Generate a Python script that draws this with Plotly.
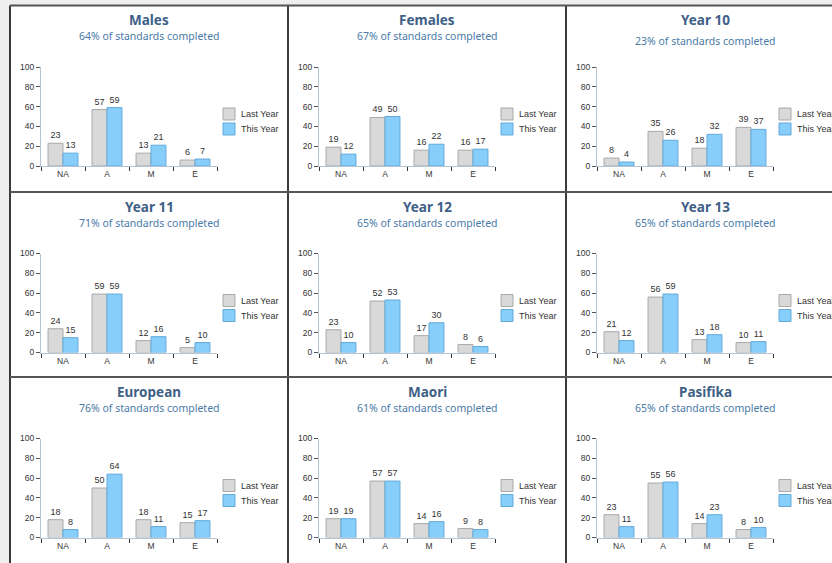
import plotly.graph_objects as go

# ---- data ----
categories = ["NA", "A", "M", "E"]
panel_titles = ["Males", "Females", "Year 10",
                "Year 11", "Year 12", "Year 13",
                "European", "Maori", "Pasifika"]
completed_pct = [64, 67, 23, 71, 65, 65, 76, 61, 65]
last_year = [
    [23, 57, 13, 6],
    [19, 49, 16, 16],
    [8, 35, 18, 39],
    [24, 59, 12, 5],
    [23, 52, 17, 8],
    [21, 56, 13, 10],
    [18, 50, 18, 15],
    [19, 57, 14, 9],
    [23, 55, 14, 8],
]
this_year = [
    [13, 59, 21, 7],
    [12, 50, 22, 17],
    [4, 26, 32, 37],
    [15, 59, 16, 10],
    [10, 53, 30, 6],
    [12, 59, 18, 11],
    [8, 64, 11, 17],
    [19, 57, 16, 8],
    [11, 56, 23, 10],
]
series_names = ["Last Year", "This Year"]

# ---- style / layout constants ----
W, H = 832, 563
col_left = [10, 288, 566]
row_top = [5.5, 192, 377]
PANEL_W = 278
LY_FILL, LY_LINE = "#d9d9d9", "#a9a9a9"
TY_FILL, TY_LINE = "#87cefa", "#62a9d9"
AXIS_LINE = "#b4c4d2"
TITLE_COLOR = "#3e6087"
SUB_COLOR = "#4a7aa8"
TEXT_COLOR = "#333333"
FONT = "Liberation Sans, Arial, sans-serif"
TITLE_FONT = "Noto Sans, Open Sans, sans-serif"


def px_x(x):
    return x / W


def px_y(y):
    return 1 - y / H


fig = go.Figure()
shapes = []
annotations = []

# panel background
shapes.append(dict(type="rect", xref="paper", yref="paper",
                   x0=px_x(col_left[0]), x1=1.2, y0=-0.2, y1=px_y(row_top[0]),
                   fillcolor="white", line=dict(width=0), layer="below"))

for i, title in enumerate(panel_titles):
    r, c = divmod(i, 3)
    L, T = col_left[c], row_top[r]
    n = i + 1
    xa = "x" if n == 1 else f"x{n}"
    ya = "y" if n == 1 else f"y{n}"
    fig.add_trace(go.Bar(
        x=categories, y=last_year[i], name=series_names[0],
        xaxis=xa, yaxis=ya, showlegend=False,
        marker=dict(color=LY_FILL, line=dict(color=LY_LINE, width=1)),
        text=last_year[i], textposition="outside", cliponaxis=False,
        constraintext="none",
        textfont=dict(size=9, color=TEXT_COLOR, family=FONT),
        hoverinfo="skip"))
    fig.add_trace(go.Bar(
        x=categories, y=this_year[i], name=series_names[1],
        xaxis=xa, yaxis=ya, showlegend=False,
        marker=dict(color=TY_FILL, line=dict(color=TY_LINE, width=1)),
        text=this_year[i], textposition="outside", cliponaxis=False,
        constraintext="none",
        textfont=dict(size=9, color=TEXT_COLOR, family=FONT),
        hoverinfo="skip"))

    xkey = "xaxis" if n == 1 else f"xaxis{n}"
    ykey = "yaxis" if n == 1 else f"yaxis{n}"
    ydomain = [px_y(T + 160.5), px_y(T + 61.5)]
    fig.layout[xkey] = dict(
        domain=[px_x(L + 31), px_x(L + 207)], anchor=ya,
        type="category", categoryorder="array", categoryarray=categories,
        range=[-0.5, 3.5], showline=True, linecolor=AXIS_LINE, linewidth=1,
        ticks="outside", tickson="boundaries", ticklen=4, tickcolor="#333",
        tickfont=dict(size=8.5, color=TEXT_COLOR, family=FONT),
        showgrid=False, zeroline=False, fixedrange=True, automargin=False)
    fig.layout[ykey] = dict(
        domain=ydomain, anchor=xa,
        range=[0, 100], dtick=20, showline=True, linecolor=AXIS_LINE,
        linewidth=1, ticks="outside", ticklen=4, tickcolor="#555",
        tickfont=dict(size=8.5, color=TEXT_COLOR, family=FONT),
        showgrid=False, zeroline=False, fixedrange=True, automargin=False)
    # overlay axis giving the short inner half of the crossing y ticks
    ykey2 = f"yaxis{n + 9}"
    fig.layout[ykey2] = dict(
        domain=ydomain, anchor=xa, overlaying=ya, side="left",
        range=[0, 100], dtick=20, showline=False, ticks="inside", ticklen=2,
        tickcolor="#555", showticklabels=False, showgrid=False,
        zeroline=False, fixedrange=True, automargin=False)

    cx = L + PANEL_W / 2
    annotations.append(dict(
        xref="paper", yref="paper", x=px_x(cx), y=px_y(T + 14.5),
        text=f"<b>{title}</b>", showarrow=False, xanchor="center", yanchor="middle",
        font=dict(size=13.5, color=TITLE_COLOR, family=TITLE_FONT)))
    sub_off = 35.5 if title == "Year 10" else 30.5
    annotations.append(dict(
        xref="paper", yref="paper", x=px_x(cx), y=px_y(T + sub_off),
        text=f"{completed_pct[i]}% of standards completed", showarrow=False,
        xanchor="center", yanchor="middle",
        font=dict(size=10.5, color=SUB_COLOR, family=TITLE_FONT)))

    # legend (manual)
    for k, (nm, fc, lc) in enumerate(zip(series_names, [LY_FILL, TY_FILL], [LY_LINE, TY_LINE])):
        yc = T + 108.5 + 15 * k
        shapes.append(dict(type="rect", xref="paper", yref="paper",
                           x0=px_x(L + 213), x1=px_x(L + 225),
                           y0=px_y(yc + 6), y1=px_y(yc - 6),
                           fillcolor=fc, line=dict(color=lc, width=1)))
        annotations.append(dict(
            xref="paper", yref="paper", x=px_x(L + 229), y=px_y(yc),
            text=nm, showarrow=False, xanchor="left", yanchor="middle",
            font=dict(size=9, color=TEXT_COLOR, family=FONT)))

# panel borders
for x in col_left:
    shapes.append(dict(type="line", xref="paper", yref="paper",
                       x0=px_x(x), x1=px_x(x), y0=-0.1, y1=px_y(row_top[0]),
                       line=dict(color="#3a3a3a", width=2)))
for y in row_top:
    shapes.append(dict(type="line", xref="paper", yref="paper",
                       x0=px_x(col_left[0]), x1=1.1, y0=px_y(y), y1=px_y(y),
                       line=dict(color="#555555", width=2)))

fig.update_layout(
    width=W, height=H, autosize=False,
    margin=dict(l=0, r=0, t=0, b=0, pad=0, autoexpand=False),
    paper_bgcolor="#efefef", plot_bgcolor="rgba(0,0,0,0)",
    barmode="group", bargap=0.32, bargroupgap=0,
    shapes=shapes, annotations=annotations, showlegend=False,
    font=dict(family=FONT, color=TEXT_COLOR))

fig.write_html(
    "out.html",
    config={"displayModeBar": False, "responsive": False},
    post_script=(
        "var s=document.createElement('style');"
        "s.textContent='html,body{margin:0;padding:0;overflow:hidden;"
        "width:832px;height:563px;background:#efefef;}';"
        "document.head.appendChild(s);"))
